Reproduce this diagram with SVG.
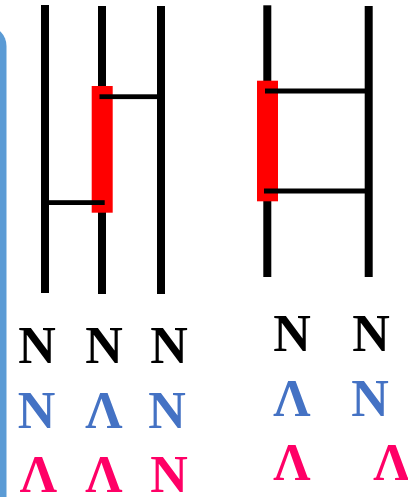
<svg xmlns="http://www.w3.org/2000/svg" width="408" height="497" viewBox="0 0 408 497">
<style>
.v{fill:#000}
.seg{fill:#FF0000}
.h{fill:#000}
.t{font-family:"Liberation Serif","Times New Roman",serif;font-weight:bold;font-size:52px;text-anchor:middle}
.k{fill:#000}
.b{fill:#4472C4}
.p{fill:#FF0066}
</style>
<rect width="408" height="497" fill="#fff"/>
<g id="side-bar">
<rect x="-40" y="26" width="46.5" height="500" rx="20" ry="20" fill="#5B9BD5"/>
</g>
<g id="left-diagram">
<rect class="v" x="41" y="5" width="8" height="288"/>
<rect class="v" x="98" y="6" width="8" height="288"/>
<rect class="v" x="157" y="6" width="8" height="288"/>
<rect class="seg" x="91.7" y="86" width="21" height="126.7"/>
<rect class="h" x="99.5" y="94.3" width="58" height="4.8"/>
<rect class="h" x="46.7" y="200.2" width="58" height="4.8"/>
</g>
<g id="right-diagram">
<rect class="v" x="263.3" y="5.3" width="8" height="271.7"/>
<rect class="v" x="364.7" y="6" width="8" height="271"/>
<rect class="seg" x="257" y="80.7" width="21" height="120.6"/>
<rect class="h" x="265" y="88.5" width="100" height="5"/>
<rect class="h" x="264" y="188.5" width="101" height="5"/>
</g>
<g id="left-labels" class="t">
<text class="k" x="37" y="363">N</text>
<text class="k" x="104" y="363">N</text>
<text class="k" x="169" y="363">N</text>
<text class="b" x="36.5" y="428">N</text>
<text class="b" x="104" y="428">Λ</text>
<text class="b" x="167" y="428">N</text>
<text class="p" x="38.5" y="492">Λ</text>
<text class="p" x="104" y="492">Λ</text>
<text class="p" x="169" y="492">N</text>
</g>
<g id="right-labels" class="t">
<text class="k" x="292" y="351">N</text>
<text class="k" x="371" y="351">N</text>
<text class="b" x="292" y="416">Λ</text>
<text class="b" x="370" y="416">N</text>
<text class="p" x="292" y="480">Λ</text>
<text class="p" x="392" y="480">Λ</text>
</g>
</svg>
